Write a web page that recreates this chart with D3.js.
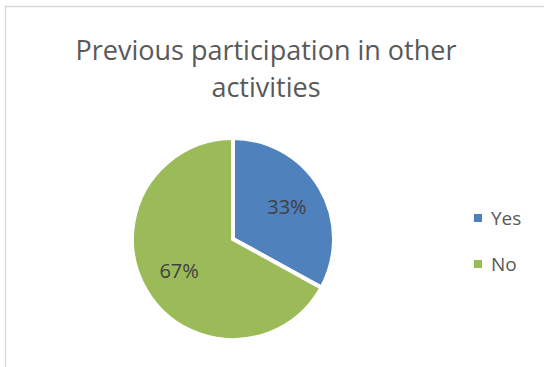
<!DOCTYPE html>
<html lang="en">
<head>
  <meta charset="UTF-8" />
  <title>Previous participation in other activities</title>
  <style>
  body {
    margin: 0;
    background: #fff;
  }
  svg {
    display: block;
    font-family: "Open Sans", sans-serif;
  }
  </style>
  <script src="https://d3js.org/d3.v7.min.js"></script>
</head>
<body>
  <div id="chart"></div>
  <script>
    // chart data
    const titleLines = ["Previous participation in other", "activities"];
    const categories = ["Yes", "No"];
    const values = [33, 67];
    const colors = ["#4F81BD", "#9BBB59"];

    const width = 544;
    const height = 367;

    const svg = d3.select("#chart").append("svg")
      .attr("width", width)
      .attr("height", height);

    // chart frame (right and bottom edges fall outside the picture)
    svg.append("rect")
      .attr("x", 5.5)
      .attr("y", 6.5)
      .attr("width", 600)
      .attr("height", 400)
      .attr("fill", "none")
      .attr("stroke", "#d9d9d9")
      .attr("stroke-width", 1.5);

    // title
    svg.append("g")
      .selectAll("text")
      .data(titleLines)
      .enter().append("text")
      .attr("x", 266)
      .attr("y", (d, i) => 60 + i * 37)
      .attr("text-anchor", "middle")
      .attr("font-size", 27)
      .attr("fill", "#595959")
      .text(d => d);

    // pie
    const cx = 233, cy = 239, radius = 101;
    const pie = d3.pie().sort(null).value(d => d.value);
    const arcs = pie(categories.map((c, i) => ({ name: c, value: values[i] })));
    const arc = d3.arc().innerRadius(0).outerRadius(radius);
    const labelArc = d3.arc().innerRadius(radius * 0.62).outerRadius(radius * 0.62);
    const total = d3.sum(values);

    const g = svg.append("g").attr("transform", `translate(${cx},${cy})`);

    g.selectAll("path")
      .data(arcs)
      .enter().append("path")
      .attr("d", arc)
      .attr("fill", (d, i) => colors[i])
      .attr("stroke", "#fff")
      .attr("stroke-width", 4)
      .attr("stroke-linejoin", "miter");

    g.selectAll(".pct")
      .data(arcs)
      .enter().append("text")
      .attr("class", "pct")
      .attr("transform", d => `translate(${labelArc.centroid(d)})`)
      .attr("text-anchor", "middle")
      .attr("dy", "0.36em")
      .attr("font-size", 20)
      .attr("fill", "#404040")
      .text(d => Math.round(d.data.value / total * 100) + "%");

    // legend
    const legend = svg.append("g")
      .selectAll("g")
      .data(categories)
      .enter().append("g")
      .attr("transform", (d, i) => `translate(474,${214 + i * 46})`);

    legend.append("rect")
      .attr("width", 8)
      .attr("height", 8)
      .attr("fill", (d, i) => colors[i]);

    legend.append("text")
      .attr("x", 17)
      .attr("y", 4)
      .attr("dy", "0.36em")
      .attr("font-size", 19)
      .attr("fill", "#595959")
      .text(d => d);
  </script>
</body>
</html>
